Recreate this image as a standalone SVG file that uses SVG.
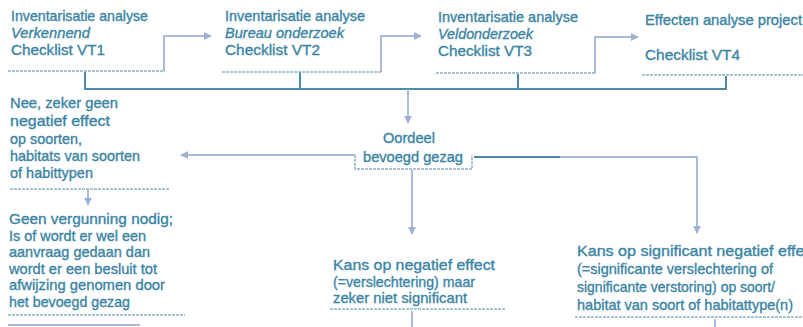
<svg xmlns="http://www.w3.org/2000/svg" width="803" height="327" viewBox="0 0 803 327">
<style>
text{font-family:"Liberation Sans",Arial,sans-serif;font-size:14.5px;fill:#3a84a3;stroke:#3a84a3;stroke-width:0.35}
.i{font-style:italic}
.b{font-size:15px}
.ul{stroke:#8fb0c6;stroke-width:1.5;stroke-dasharray:3 1;fill:none}
.c{stroke:#a9bada;stroke-width:2;fill:none}
.d{stroke:#4a8aa6;stroke-width:2;fill:none}
</style>
<defs>
<marker id="ah" viewBox="0 0 10 10" refX="9" refY="5" markerWidth="4" markerHeight="4" orient="auto">
<path d="M0,0 L10,5 L0,10 z" fill="#9fb1d3"/>
</marker>
</defs>
<rect width="803" height="327" fill="#ffffff"/>
<g id="connectors">
<path class="c" d="M164,71 V36 H211" marker-end="url(#ah)"/>
<path class="c" d="M381,72 V36 H421" marker-end="url(#ah)"/>
<path class="c" d="M595,73 V37 H638" marker-end="url(#ah)"/>
<path class="d" d="M85,72 V89 H726 V76"/>
<path class="d" d="M300,72 V89"/>
<path class="d" d="M518,74 V89"/>
<path class="c" d="M408,89 V123" marker-end="url(#ah)"/>
<path class="c" d="M355,155 H181" marker-end="url(#ah)"/>
<path class="ul" d="M355,155 V169 H472 V155"/>
<path class="d" d="M474,157 H560"/>
<path class="c" d="M560,157 H697 V233" marker-end="url(#ah)"/>
<path class="c" d="M412,170 V234" marker-end="url(#ah)"/>
<path class="c" d="M88,190 V205" marker-end="url(#ah)"/>
<path class="c" d="M412,311 V327"/>
<path class="c" d="M715,319 V327"/>
<path class="c" d="M8,325 H140"/>
</g>
<g id="n1">
<text x="11" y="21" textLength="137" lengthAdjust="spacingAndGlyphs">Inventarisatie analyse</text>
<text x="11" y="38" class="i" textLength="79" lengthAdjust="spacingAndGlyphs">Verkennend</text>
<text x="11" y="55" textLength="94" lengthAdjust="spacingAndGlyphs">Checklist VT1</text>
<path class="ul" d="M8,71 H165"/>
</g>
<g id="n2">
<text x="225" y="21" textLength="140" lengthAdjust="spacingAndGlyphs">Inventarisatie analyse</text>
<text x="225" y="38" class="i" textLength="119" lengthAdjust="spacingAndGlyphs">Bureau onderzoek</text>
<text x="225" y="55" textLength="95" lengthAdjust="spacingAndGlyphs">Checklist VT2</text>
<path class="ul" d="M222,72 H381"/>
</g>
<g id="n3">
<text x="438" y="22" textLength="140" lengthAdjust="spacingAndGlyphs">Inventarisatie analyse</text>
<text x="438" y="39" class="i" textLength="95" lengthAdjust="spacingAndGlyphs">Veldonderzoek</text>
<text x="438" y="56" textLength="94" lengthAdjust="spacingAndGlyphs">Checklist VT3</text>
<path class="ul" d="M436,73 H595"/>
</g>
<g id="n4">
<text x="645" y="25" textLength="157" lengthAdjust="spacingAndGlyphs">Effecten analyse project</text>
<text x="645" y="60" textLength="95" lengthAdjust="spacingAndGlyphs">Checklist VT4</text>
<path class="ul" d="M642,75 H803"/>
</g>
<g id="n5">
<text x="10" y="108" textLength="108" lengthAdjust="spacingAndGlyphs">Nee, zeker geen</text>
<text x="10" y="126" textLength="100" lengthAdjust="spacingAndGlyphs">negatief effect</text>
<text x="10" y="144" textLength="72" lengthAdjust="spacingAndGlyphs">op soorten,</text>
<text x="10" y="161" textLength="130" lengthAdjust="spacingAndGlyphs">habitats van soorten</text>
<text x="10" y="178" textLength="83" lengthAdjust="spacingAndGlyphs">of habittypen</text>
<path class="ul" d="M10,189 H170"/>
</g>
<g id="n6">
<text x="383" y="143" textLength="52" lengthAdjust="spacingAndGlyphs">Oordeel</text>
<text x="363" y="162" textLength="100" lengthAdjust="spacingAndGlyphs">bevoegd gezag</text>
</g>
<g id="n7">
<text x="9" y="224" class="b" textLength="164" lengthAdjust="spacingAndGlyphs">Geen vergunning nodig;</text>
<text x="9" y="240.5" class="b" textLength="137" lengthAdjust="spacingAndGlyphs">Is of wordt er wel een</text>
<text x="9" y="257" class="b" textLength="141" lengthAdjust="spacingAndGlyphs">aanvraag gedaan dan</text>
<text x="9" y="273.5" class="b" textLength="148" lengthAdjust="spacingAndGlyphs">wordt er een besluit tot</text>
<text x="9" y="290" class="b" textLength="156" lengthAdjust="spacingAndGlyphs">afwijzing genomen door</text>
<text x="9" y="306.5" class="b" textLength="121" lengthAdjust="spacingAndGlyphs">het bevoegd gezag</text>
<path class="ul" d="M8,315 H185"/>
</g>
<g id="n8">
<text x="333" y="270" class="b" textLength="162" lengthAdjust="spacingAndGlyphs">Kans op negatief effect</text>
<text x="333" y="287" class="b" textLength="142" lengthAdjust="spacingAndGlyphs">(=verslechtering) maar</text>
<text x="333" y="303" class="b" textLength="134" lengthAdjust="spacingAndGlyphs">zeker niet significant</text>
<path class="ul" d="M330,309 H505"/>
</g>
<g id="n9">
<text x="577" y="256" class="b" textLength="240" lengthAdjust="spacingAndGlyphs">Kans op significant negatief effect</text>
<text x="577" y="274" class="b" textLength="196" lengthAdjust="spacingAndGlyphs">(=significante verslechtering of</text>
<text x="577" y="292" class="b" textLength="198" lengthAdjust="spacingAndGlyphs">significante verstoring) op soort/</text>
<text x="577" y="310" class="b" textLength="216" lengthAdjust="spacingAndGlyphs">habitat van soort of habitattype(n)</text>
<path class="ul" d="M575,317 H803"/>
</g>
</svg>
